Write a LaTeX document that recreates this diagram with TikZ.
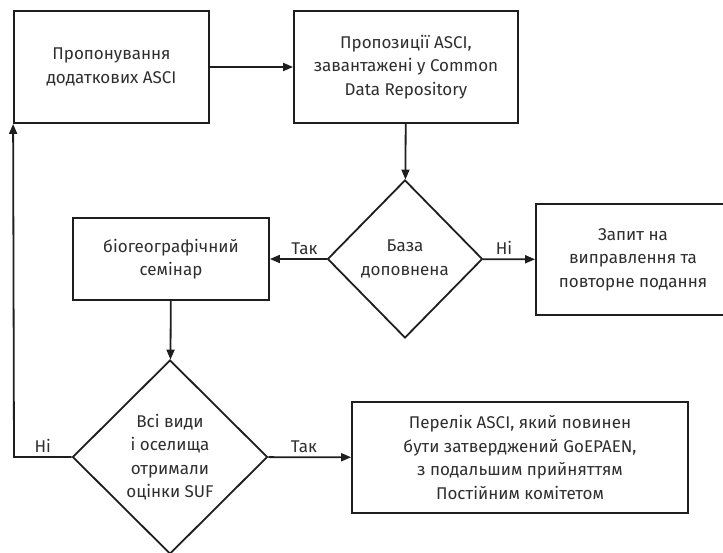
\documentclass[tikz,border=0pt]{standalone}
\usepackage{fontspec}
\setmainfont{Fira Sans}
\usetikzlibrary{shapes.geometric,arrows.meta}
\definecolor{inkline}{HTML}{1E1E1E}
\definecolor{inktext}{HTML}{2E2E2E}

\begin{document}
\begin{tikzpicture}[x=1pt, y=-1pt, >={Triangle[length=10pt,width=8pt]},
    every node/.style={font=\fontsize{17}{23.5}\selectfont, text=inktext, align=center},
    stepbox/.style={draw=inkline, line width=1.8pt, rectangle, inner sep=0pt},
    decision/.style={draw=inkline, line width=1.8pt, diamond, inner sep=0pt},
    flow/.style={->, line width=1.8pt, draw=inkline},
    tag/.style={font=\fontsize{17}{20}\selectfont}]
    \useasboundingbox (0,0) rectangle (723,553);
    \clip (0,0) rectangle (723,553);

    % Nodes
    \node[stepbox, minimum width=195pt, minimum height=112pt] (propose) at (111.5, 67) {Пропонування\\додаткових ASCI};
    \node[stepbox, minimum width=224pt, minimum height=112pt] (upload) at (406, 67) {Пропозиції ASCI,\\завантажені у Common\\Data Repository};
    \node[decision, minimum width=155pt, minimum height=158pt] (complete) at (405, 259) {База\\доповнена};
    \node[stepbox, minimum width=194pt, minimum height=111pt] (resubmit) at (633, 259.5) {Запит на\\виправлення та\\повторне подання};
    \node[stepbox, minimum width=196pt, minimum height=82pt] (seminar) at (171, 259) {біогеографічний\\семінар};
    \node[decision, minimum width=195pt, minimum height=194pt] (assessed) at (170, 457) {Всі види\\ і оселища\\отримали\\оцінки SUF};
    \node[stepbox, minimum width=336pt, minimum height=111pt] (approval) at (520, 457.5) {Перелік ASCI, який повинен\\бути затверджений GoEPAEN,\\з подальшим прийняттям\\Постійним комітетом};
    \coordinate (back) at (14, 457);

    % Arrows
    \draw[flow] (propose) -- (upload);
    \draw[flow] (upload) -- (complete);
    \draw[flow] (complete) -- node[tag, above=0pt, pos=0.39] {Так} (seminar);
    \draw[flow] (complete) -- node[tag, above=0pt, pos=0.4] {Ні} (resubmit);
    \draw[flow] (seminar) -- (assessed);
    \draw[flow] (assessed) -- node[tag, above=0pt, pos=0.5] {Ні} (back) -- (propose.south west);
    \draw[flow] (assessed) -- node[tag, above=0pt, pos=0.43] {Так} (approval);
\end{tikzpicture}
\end{document}
